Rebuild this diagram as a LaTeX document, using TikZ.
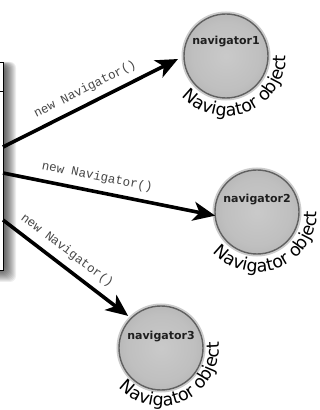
\documentclass[tikz,border=0pt]{standalone}
\usepackage{fontspec}
\newfontfamily\monofont{Liberation Mono}
\newfontfamily\captionfont{DejaVu Sans}
\newfontfamily\namefont{DejaVu Sans}
\usetikzlibrary{arrows.meta,decorations.text}

% soft grey ball: light centre, darker towards the rim
\pgfdeclareradialshading{ballshade}{\pgfpoint{0bp}{0bp}}{%
  color(0bp)=(black!21); color(20bp)=(black!25);
  color(40bp)=(black!35); color(50bp)=(black!46)}

\begin{document}
\begin{tikzpicture}[x=1pt,y=1pt,
  objbox/.style={draw=black, line width=0.8pt, fill=white,
    minimum width=30pt, minimum height=208pt, inner sep=0pt, outer sep=0pt},
  navobj/.style={circle, minimum size=84pt, inner sep=0pt, outer sep=0pt,
    shading=ballshade, draw=black!62, line width=1.4pt,
    preaction={draw=black!20, line width=5pt}},
  navname/.style={font=\namefont\bfseries\fontsize{11}{13}\selectfont,
    text=black!88, inner sep=0pt},
  newarrow/.style={line width=3.6pt,
    -{Stealth[length=22pt,width=19pt,inset=6pt]}},
  newlabel/.style={sloped, above=7pt, inner sep=0pt,
    font=\monofont\fontsize{12.5}{14}\selectfont, text=black!72},
  objcaption/.style={decorate, decoration={text along path,
    text align=center,
    text={|\captionfont\fontsize{17.5}{19}\selectfont|Navigator object}}}
]
\useasboundingbox (0,0) rectangle (320,410);
\fill[white] (0,0) rectangle (320,410);
\clip (0,0) rectangle (320,410);

% blurred drop shadow of the object box
\foreach \k in {0,...,17}{
  \fill[black, opacity=0.065, rounded corners=6pt]
    (-40,145-\k) rectangle (\k-1,343+0.3*\k);
}

% the object box, mostly off the left edge
\node[objbox] (obj) at (-12,244) {};
\coordinate (sep) at (0,319);
\draw[line width=0.8pt] (obj.west |- sep) -- (obj.east |- sep);

% Navigator objects
\node[navobj] (n1) at (226,354) {};
\node[navobj] (n2) at (257,198) {};
\node[navobj] (n3) at (161,62) {};

\node[navname] (n1name) at ([yshift=14pt]n1.center) {navigator1};
\node[navname] (n2name) at ([yshift=12pt]n2.center) {navigator2};
\node[navname] (n3name) at ([yshift=11pt]n3.center) {navigator3};

\path[objcaption] (n1.center) ++(195:60) arc[start angle=195, end angle=388, radius=60];
\path[objcaption] (n2.center) ++(195:60) arc[start angle=195, end angle=388, radius=60];
\path[objcaption] (n3.center) ++(198:58) arc[start angle=198, end angle=391, radius=58];

% constructor calls
\coordinate (s1) at (3,263);
\coordinate (s2) at (3,237);
\coordinate (s3) at (3,190);

\draw[newarrow, shorten >=6.7pt] (s1) -- node[newlabel, pos=0.49] {new Navigator()} (n1.west);
\draw[newarrow] (s2) -- node[newlabel, pos=0.43] {new Navigator()} (n2.185);
\draw[newarrow, shorten >=4pt] (s3) -- node[newlabel, pos=0.43] {new Navigator()} (n3.135);
\end{tikzpicture}
\end{document}
